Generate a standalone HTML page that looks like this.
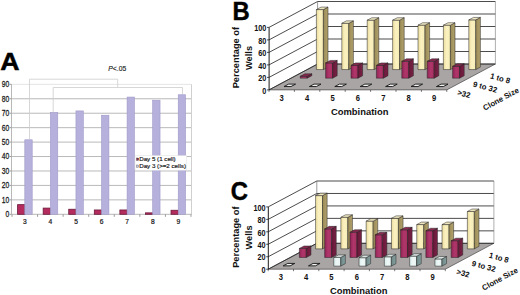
<!DOCTYPE html>
<html><head><meta charset="utf-8"><style>
html,body{margin:0;padding:0;background:#fff;width:520px;height:295px;overflow:hidden}
svg{display:block;font-family:"Liberation Sans", sans-serif}
</style></head><body>
<svg width="520" height="295" viewBox="0 0 520 295">
<defs>
<linearGradient id="yf" x1="0" y1="0" x2="1" y2="0"><stop offset="0" stop-color="#eadc9e"/><stop offset="0.45" stop-color="#fbf1bf"/><stop offset="1" stop-color="#f6ecb6"/></linearGradient>
<linearGradient id="ys" x1="0" y1="0" x2="1" y2="0"><stop offset="0" stop-color="#9a8a56"/><stop offset="1" stop-color="#b2a26c"/></linearGradient>
<linearGradient id="rf" x1="0" y1="0" x2="1" y2="0"><stop offset="0" stop-color="#902456"/><stop offset="0.5" stop-color="#b0366a"/><stop offset="1" stop-color="#a62f60"/></linearGradient>
<linearGradient id="rs" x1="0" y1="0" x2="1" y2="0"><stop offset="0" stop-color="#661838"/><stop offset="1" stop-color="#7a2246"/></linearGradient>
<linearGradient id="wf" x1="0" y1="0" x2="1" y2="0"><stop offset="0" stop-color="#d8ecea"/><stop offset="0.5" stop-color="#eef8f6"/><stop offset="1" stop-color="#e4f2f0"/></linearGradient>
<linearGradient id="ws" x1="0" y1="0" x2="1" y2="0"><stop offset="0" stop-color="#6e8888"/><stop offset="1" stop-color="#86a0a0"/></linearGradient>
</defs>
<rect width="520" height="295" fill="#fff"/>
<line x1="11.5" y1="199.86" x2="191.5" y2="199.86" stroke="#b9b9b9" stroke-width="1"/>
<line x1="11.5" y1="185.42" x2="191.5" y2="185.42" stroke="#b9b9b9" stroke-width="1"/>
<line x1="11.5" y1="170.98" x2="191.5" y2="170.98" stroke="#b9b9b9" stroke-width="1"/>
<line x1="11.5" y1="156.54" x2="191.5" y2="156.54" stroke="#b9b9b9" stroke-width="1"/>
<line x1="11.5" y1="142.1" x2="191.5" y2="142.1" stroke="#b9b9b9" stroke-width="1"/>
<line x1="11.5" y1="127.66" x2="191.5" y2="127.66" stroke="#b9b9b9" stroke-width="1"/>
<line x1="11.5" y1="113.22" x2="191.5" y2="113.22" stroke="#b9b9b9" stroke-width="1"/>
<line x1="11.5" y1="98.78" x2="191.5" y2="98.78" stroke="#b9b9b9" stroke-width="1"/>
<line x1="11.5" y1="84.34" x2="191.5" y2="84.34" stroke="#e4e4e4" stroke-width="1"/>
<line x1="191.5" y1="84.34" x2="191.5" y2="214.3" stroke="#d0d0d0" stroke-width="1"/>
<line x1="11.5" y1="84.34" x2="11.5" y2="214.3" stroke="#b8b8b8" stroke-width="1"/>
<line x1="11.5" y1="214.3" x2="191.5" y2="214.3" stroke="#b8b8b8" stroke-width="1"/>
<line x1="9.5" y1="214.3" x2="11.5" y2="214.3" stroke="#9a9a9a" stroke-width="1"/>
<text transform="translate(9.2,217.2) scale(0.8,1)" text-anchor="end" font-size="8.4" fill="#1a1a1a" stroke="#1a1a1a" stroke-width="0.25">0</text>
<line x1="9.5" y1="199.86" x2="11.5" y2="199.86" stroke="#9a9a9a" stroke-width="1"/>
<text transform="translate(9.2,202.76) scale(0.8,1)" text-anchor="end" font-size="8.4" fill="#1a1a1a" stroke="#1a1a1a" stroke-width="0.25">10</text>
<line x1="9.5" y1="185.42" x2="11.5" y2="185.42" stroke="#9a9a9a" stroke-width="1"/>
<text transform="translate(9.2,188.32) scale(0.8,1)" text-anchor="end" font-size="8.4" fill="#1a1a1a" stroke="#1a1a1a" stroke-width="0.25">20</text>
<line x1="9.5" y1="170.98" x2="11.5" y2="170.98" stroke="#9a9a9a" stroke-width="1"/>
<text transform="translate(9.2,173.88) scale(0.8,1)" text-anchor="end" font-size="8.4" fill="#1a1a1a" stroke="#1a1a1a" stroke-width="0.25">30</text>
<line x1="9.5" y1="156.54" x2="11.5" y2="156.54" stroke="#9a9a9a" stroke-width="1"/>
<text transform="translate(9.2,159.44) scale(0.8,1)" text-anchor="end" font-size="8.4" fill="#1a1a1a" stroke="#1a1a1a" stroke-width="0.25">40</text>
<line x1="9.5" y1="142.1" x2="11.5" y2="142.1" stroke="#9a9a9a" stroke-width="1"/>
<text transform="translate(9.2,145) scale(0.8,1)" text-anchor="end" font-size="8.4" fill="#1a1a1a" stroke="#1a1a1a" stroke-width="0.25">50</text>
<line x1="9.5" y1="127.66" x2="11.5" y2="127.66" stroke="#9a9a9a" stroke-width="1"/>
<text transform="translate(9.2,130.56) scale(0.8,1)" text-anchor="end" font-size="8.4" fill="#1a1a1a" stroke="#1a1a1a" stroke-width="0.25">60</text>
<line x1="9.5" y1="113.22" x2="11.5" y2="113.22" stroke="#9a9a9a" stroke-width="1"/>
<text transform="translate(9.2,116.12) scale(0.8,1)" text-anchor="end" font-size="8.4" fill="#1a1a1a" stroke="#1a1a1a" stroke-width="0.25">70</text>
<line x1="9.5" y1="98.78" x2="11.5" y2="98.78" stroke="#9a9a9a" stroke-width="1"/>
<text transform="translate(9.2,101.68) scale(0.8,1)" text-anchor="end" font-size="8.4" fill="#1a1a1a" stroke="#1a1a1a" stroke-width="0.25">80</text>
<line x1="9.5" y1="84.34" x2="11.5" y2="84.34" stroke="#9a9a9a" stroke-width="1"/>
<text transform="translate(9.2,87.24) scale(0.8,1)" text-anchor="end" font-size="8.4" fill="#1a1a1a" stroke="#1a1a1a" stroke-width="0.25">90</text>
<line x1="12" y1="214.3" x2="12" y2="216.8" stroke="#9a9a9a" stroke-width="1"/>
<line x1="37.57" y1="214.3" x2="37.57" y2="216.8" stroke="#9a9a9a" stroke-width="1"/>
<line x1="63.14" y1="214.3" x2="63.14" y2="216.8" stroke="#9a9a9a" stroke-width="1"/>
<line x1="88.71" y1="214.3" x2="88.71" y2="216.8" stroke="#9a9a9a" stroke-width="1"/>
<line x1="114.28" y1="214.3" x2="114.28" y2="216.8" stroke="#9a9a9a" stroke-width="1"/>
<line x1="139.85" y1="214.3" x2="139.85" y2="216.8" stroke="#9a9a9a" stroke-width="1"/>
<line x1="165.42" y1="214.3" x2="165.42" y2="216.8" stroke="#9a9a9a" stroke-width="1"/>
<line x1="190.99" y1="214.3" x2="190.99" y2="216.8" stroke="#9a9a9a" stroke-width="1"/>
<rect x="17.6" y="204.63" width="7.2" height="9.67" fill="#b42c5e" stroke="#6a1838" stroke-width="0.8"/>
<rect x="24.8" y="139.79" width="7.4" height="74.51" fill="#b5b0dc" stroke="#a09ac8" stroke-width="0.6"/>
<text transform="translate(24.9,224.1) scale(0.88,1)" text-anchor="middle" font-size="7.6" fill="#1a1a1a" stroke="#1a1a1a" stroke-width="0.25">3</text>
<rect x="43.17" y="208.09" width="7.2" height="6.21" fill="#b42c5e" stroke="#6a1838" stroke-width="0.8"/>
<rect x="50.37" y="112.5" width="7.4" height="101.8" fill="#b5b0dc" stroke="#a09ac8" stroke-width="0.6"/>
<text transform="translate(50.47,224.1) scale(0.88,1)" text-anchor="middle" font-size="7.6" fill="#1a1a1a" stroke="#1a1a1a" stroke-width="0.25">4</text>
<rect x="68.74" y="209.25" width="7.2" height="5.05" fill="#b42c5e" stroke="#6a1838" stroke-width="0.8"/>
<rect x="75.94" y="110.91" width="7.4" height="103.39" fill="#b5b0dc" stroke="#a09ac8" stroke-width="0.6"/>
<text transform="translate(76.04,224.1) scale(0.88,1)" text-anchor="middle" font-size="7.6" fill="#1a1a1a" stroke="#1a1a1a" stroke-width="0.25">5</text>
<rect x="94.31" y="209.97" width="7.2" height="4.33" fill="#b42c5e" stroke="#6a1838" stroke-width="0.8"/>
<rect x="101.51" y="115.24" width="7.4" height="99.06" fill="#b5b0dc" stroke="#a09ac8" stroke-width="0.6"/>
<text transform="translate(101.61,224.1) scale(0.88,1)" text-anchor="middle" font-size="7.6" fill="#1a1a1a" stroke="#1a1a1a" stroke-width="0.25">6</text>
<rect x="119.88" y="209.97" width="7.2" height="4.33" fill="#b42c5e" stroke="#6a1838" stroke-width="0.8"/>
<rect x="127.08" y="97.05" width="7.4" height="117.25" fill="#b5b0dc" stroke="#a09ac8" stroke-width="0.6"/>
<text transform="translate(127.18,224.1) scale(0.88,1)" text-anchor="middle" font-size="7.6" fill="#1a1a1a" stroke="#1a1a1a" stroke-width="0.25">7</text>
<rect x="145.45" y="212.86" width="7.2" height="1.44" fill="#b42c5e" stroke="#6a1838" stroke-width="0.8"/>
<rect x="152.65" y="100.22" width="7.4" height="114.08" fill="#b5b0dc" stroke="#a09ac8" stroke-width="0.6"/>
<text transform="translate(152.75,224.1) scale(0.88,1)" text-anchor="middle" font-size="7.6" fill="#1a1a1a" stroke="#1a1a1a" stroke-width="0.25">8</text>
<rect x="171.02" y="210.26" width="7.2" height="4.04" fill="#b42c5e" stroke="#6a1838" stroke-width="0.8"/>
<rect x="178.22" y="94.74" width="7.4" height="119.56" fill="#b5b0dc" stroke="#a09ac8" stroke-width="0.6"/>
<text transform="translate(178.32,224.1) scale(0.88,1)" text-anchor="middle" font-size="7.6" fill="#1a1a1a" stroke="#1a1a1a" stroke-width="0.25">9</text>
<polyline points="29.5,139 29.5,79.2 117.7,79.2 117.7,87.5" fill="none" stroke="#cdcdcd" stroke-width="0.8"/>
<polyline points="53.2,112 53.2,87.5 182.5,87.5 182.5,94" fill="none" stroke="#cdcdcd" stroke-width="0.8"/>
<text transform="translate(108.3,71.1) scale(0.87,1)" font-size="7.8" fill="#1a1a1a" stroke="#1a1a1a" stroke-width="0.15"><tspan font-style="italic">P</tspan>&lt;.05</text>
<rect x="135" y="155.6" width="51.6" height="14.6" fill="#fff" stroke="#e0e0e0" stroke-width="0.5"/>
<rect x="136.5" y="158" width="2.2" height="2.4" fill="#8a2a4a" stroke="#444" stroke-width="0.4"/>
<rect x="136.5" y="165" width="2.2" height="2.4" fill="#c8c4e0" stroke="#666" stroke-width="0.4"/>
<text x="139.2" y="161" font-size="6.2" fill="#1a1a1a" stroke="#1a1a1a" stroke-width="0.18">Day 5 (1 cell)</text>
<text x="139.2" y="168" font-size="6.2" fill="#1a1a1a" stroke="#1a1a1a" stroke-width="0.18">Day 3 (&gt;=2 cells)</text>
<text transform="translate(0.3,70.3) scale(1.09,1)" font-size="24.5" font-weight="bold" fill="#000" stroke="#000" stroke-width="0.5">A</text>
<polygon points="269,89.9 446.8,89.9 495.4,64.01 317.6,64.01" fill="#aaa5a5" stroke="#333" stroke-width="0.6"/><line x1="317.6" y1="64.01" x2="495.4" y2="64.01" stroke="#2c2c2c" stroke-width="0.85"/><line x1="269" y1="89.9" x2="317.6" y2="64.01" stroke="#2c2c2c" stroke-width="0.85"/><line x1="317.6" y1="51.51" x2="495.4" y2="51.51" stroke="#2c2c2c" stroke-width="0.85"/><line x1="269" y1="77.4" x2="317.6" y2="51.51" stroke="#2c2c2c" stroke-width="0.85"/><line x1="317.6" y1="39.01" x2="495.4" y2="39.01" stroke="#2c2c2c" stroke-width="0.85"/><line x1="269" y1="64.9" x2="317.6" y2="39.01" stroke="#2c2c2c" stroke-width="0.85"/><line x1="317.6" y1="26.51" x2="495.4" y2="26.51" stroke="#2c2c2c" stroke-width="0.85"/><line x1="269" y1="52.4" x2="317.6" y2="26.51" stroke="#2c2c2c" stroke-width="0.85"/><line x1="317.6" y1="14.01" x2="495.4" y2="14.01" stroke="#2c2c2c" stroke-width="0.85"/><line x1="269" y1="39.9" x2="317.6" y2="14.01" stroke="#2c2c2c" stroke-width="0.85"/><line x1="317.6" y1="1.51" x2="495.4" y2="1.51" stroke="#2c2c2c" stroke-width="0.85"/><line x1="269" y1="27.4" x2="317.6" y2="1.51" stroke="#2c2c2c" stroke-width="0.85"/><line x1="317.6" y1="64.01" x2="317.6" y2="1.51" stroke="#555" stroke-width="0.6"/><line x1="495.4" y1="64.01" x2="495.4" y2="1.51" stroke="#777" stroke-width="0.6"/><line x1="269.1" y1="89.9" x2="269.1" y2="27.4" stroke="#1a1a1a" stroke-width="1"/><line x1="267" y1="89.9" x2="269" y2="89.9" stroke="#222" stroke-width="0.8"/><text transform="translate(266.4,93.6) scale(0.88,1)" text-anchor="end" font-size="8.3" font-weight="bold" fill="#111">0</text><line x1="267" y1="77.4" x2="269" y2="77.4" stroke="#222" stroke-width="0.8"/><text transform="translate(266.4,81.1) scale(0.88,1)" text-anchor="end" font-size="8.3" font-weight="bold" fill="#111">20</text><line x1="267" y1="64.9" x2="269" y2="64.9" stroke="#222" stroke-width="0.8"/><text transform="translate(266.4,68.6) scale(0.88,1)" text-anchor="end" font-size="8.3" font-weight="bold" fill="#111">40</text><line x1="267" y1="52.4" x2="269" y2="52.4" stroke="#222" stroke-width="0.8"/><text transform="translate(266.4,56.1) scale(0.88,1)" text-anchor="end" font-size="8.3" font-weight="bold" fill="#111">60</text><line x1="267" y1="39.9" x2="269" y2="39.9" stroke="#222" stroke-width="0.8"/><text transform="translate(266.4,43.6) scale(0.88,1)" text-anchor="end" font-size="8.3" font-weight="bold" fill="#111">80</text><line x1="267" y1="27.4" x2="269" y2="27.4" stroke="#222" stroke-width="0.8"/><text transform="translate(266.4,31.1) scale(0.88,1)" text-anchor="end" font-size="8.3" font-weight="bold" fill="#111">100</text><line x1="269" y1="89.9" x2="269" y2="91.9" stroke="#222" stroke-width="0.6"/><line x1="294.4" y1="89.9" x2="294.4" y2="91.9" stroke="#222" stroke-width="0.6"/><line x1="319.8" y1="89.9" x2="319.8" y2="91.9" stroke="#222" stroke-width="0.6"/><line x1="345.2" y1="89.9" x2="345.2" y2="91.9" stroke="#222" stroke-width="0.6"/><line x1="370.6" y1="89.9" x2="370.6" y2="91.9" stroke="#222" stroke-width="0.6"/><line x1="396" y1="89.9" x2="396" y2="91.9" stroke="#222" stroke-width="0.6"/><line x1="421.4" y1="89.9" x2="421.4" y2="91.9" stroke="#222" stroke-width="0.6"/><line x1="446.8" y1="89.9" x2="446.8" y2="91.9" stroke="#222" stroke-width="0.6"/><text transform="translate(281.7,100.8) scale(0.92,1)" text-anchor="middle" font-size="8.3" font-weight="bold" fill="#111">3</text><text transform="translate(307.1,100.8) scale(0.92,1)" text-anchor="middle" font-size="8.3" font-weight="bold" fill="#111">4</text><text transform="translate(332.5,100.8) scale(0.92,1)" text-anchor="middle" font-size="8.3" font-weight="bold" fill="#111">5</text><text transform="translate(357.9,100.8) scale(0.92,1)" text-anchor="middle" font-size="8.3" font-weight="bold" fill="#111">6</text><text transform="translate(383.3,100.8) scale(0.92,1)" text-anchor="middle" font-size="8.3" font-weight="bold" fill="#111">7</text><text transform="translate(408.7,100.8) scale(0.92,1)" text-anchor="middle" font-size="8.3" font-weight="bold" fill="#111">8</text><text transform="translate(434.1,100.8) scale(0.92,1)" text-anchor="middle" font-size="8.3" font-weight="bold" fill="#111">9</text><polygon points="316.4,69.55 323.38,69.55 323.38,9.55 316.4,9.55" fill="url(#yf)" stroke="#222" stroke-width="0.5"/><polygon points="323.38,69.55 328,67.1 328,7.1 323.38,9.55" fill="url(#ys)" stroke="#222" stroke-width="0.5"/><polygon points="316.4,9.55 323.38,9.55 328,7.1 321.02,7.1" fill="#efe6c0" stroke="#222" stroke-width="0.5"/><polygon points="341.8,69.55 348.78,69.55 348.78,23.3 341.8,23.3" fill="url(#yf)" stroke="#222" stroke-width="0.5"/><polygon points="348.78,69.55 353.4,67.1 353.4,20.85 348.78,23.3" fill="url(#ys)" stroke="#222" stroke-width="0.5"/><polygon points="341.8,23.3 348.78,23.3 353.4,20.85 346.42,20.85" fill="#efe6c0" stroke="#222" stroke-width="0.5"/><polygon points="367.2,69.55 374.18,69.55 374.18,20.18 367.2,20.18" fill="url(#yf)" stroke="#222" stroke-width="0.5"/><polygon points="374.18,69.55 378.8,67.1 378.8,17.72 374.18,20.18" fill="url(#ys)" stroke="#222" stroke-width="0.5"/><polygon points="367.2,20.18 374.18,20.18 378.8,17.72 371.82,17.72" fill="#efe6c0" stroke="#222" stroke-width="0.5"/><polygon points="392.6,69.55 399.58,69.55 399.58,20.18 392.6,20.18" fill="url(#yf)" stroke="#222" stroke-width="0.5"/><polygon points="399.58,69.55 404.2,67.1 404.2,17.72 399.58,20.18" fill="url(#ys)" stroke="#222" stroke-width="0.5"/><polygon points="392.6,20.18 399.58,20.18 404.2,17.72 397.22,17.72" fill="#efe6c0" stroke="#222" stroke-width="0.5"/><polygon points="418,69.55 424.98,69.55 424.98,25.18 418,25.18" fill="url(#yf)" stroke="#222" stroke-width="0.5"/><polygon points="424.98,69.55 429.6,67.1 429.6,22.72 424.98,25.18" fill="url(#ys)" stroke="#222" stroke-width="0.5"/><polygon points="418,25.18 424.98,25.18 429.6,22.72 422.62,22.72" fill="#efe6c0" stroke="#222" stroke-width="0.5"/><polygon points="443.4,69.55 450.38,69.55 450.38,25.18 443.4,25.18" fill="url(#yf)" stroke="#222" stroke-width="0.5"/><polygon points="450.38,69.55 455,67.1 455,22.72 450.38,25.18" fill="url(#ys)" stroke="#222" stroke-width="0.5"/><polygon points="443.4,25.18 450.38,25.18 455,22.72 448.02,22.72" fill="#efe6c0" stroke="#222" stroke-width="0.5"/><polygon points="468.8,69.55 475.78,69.55 475.78,19.87 468.8,19.87" fill="url(#yf)" stroke="#222" stroke-width="0.5"/><polygon points="475.78,69.55 480.4,67.1 480.4,17.41 475.78,19.87" fill="url(#ys)" stroke="#222" stroke-width="0.5"/><polygon points="468.8,19.87 475.78,19.87 480.4,17.41 473.42,17.41" fill="#efe6c0" stroke="#222" stroke-width="0.5"/><polygon points="300.2,78.18 307.18,78.18 307.18,76.31 300.2,76.31" fill="url(#rf)" stroke="#222" stroke-width="0.5"/><polygon points="307.18,78.18 311.8,75.73 311.8,73.85 307.18,76.31" fill="url(#rs)" stroke="#222" stroke-width="0.5"/><polygon points="300.2,76.31 307.18,76.31 311.8,73.85 304.82,73.85" fill="#8a2a50" stroke="#222" stroke-width="0.5"/><polygon points="325.6,78.18 332.58,78.18 332.58,62.87 325.6,62.87" fill="url(#rf)" stroke="#222" stroke-width="0.5"/><polygon points="332.58,78.18 337.2,75.73 337.2,60.41 332.58,62.87" fill="url(#rs)" stroke="#222" stroke-width="0.5"/><polygon points="325.6,62.87 332.58,62.87 337.2,60.41 330.22,60.41" fill="#8a2a50" stroke="#222" stroke-width="0.5"/><polygon points="351,78.18 357.98,78.18 357.98,65.37 351,65.37" fill="url(#rf)" stroke="#222" stroke-width="0.5"/><polygon points="357.98,78.18 362.6,75.73 362.6,62.91 357.98,65.37" fill="url(#rs)" stroke="#222" stroke-width="0.5"/><polygon points="351,65.37 357.98,65.37 362.6,62.91 355.62,62.91" fill="#8a2a50" stroke="#222" stroke-width="0.5"/><polygon points="376.4,78.18 383.38,78.18 383.38,65.37 376.4,65.37" fill="url(#rf)" stroke="#222" stroke-width="0.5"/><polygon points="383.38,78.18 388,75.73 388,62.91 383.38,65.37" fill="url(#rs)" stroke="#222" stroke-width="0.5"/><polygon points="376.4,65.37 383.38,65.37 388,62.91 381.02,62.91" fill="#8a2a50" stroke="#222" stroke-width="0.5"/><polygon points="401.8,78.18 408.78,78.18 408.78,61.31 401.8,61.31" fill="url(#rf)" stroke="#222" stroke-width="0.5"/><polygon points="408.78,78.18 413.4,75.73 413.4,58.85 408.78,61.31" fill="url(#rs)" stroke="#222" stroke-width="0.5"/><polygon points="401.8,61.31 408.78,61.31 413.4,58.85 406.42,58.85" fill="#8a2a50" stroke="#222" stroke-width="0.5"/><polygon points="427.2,78.18 434.18,78.18 434.18,61.31 427.2,61.31" fill="url(#rf)" stroke="#222" stroke-width="0.5"/><polygon points="434.18,78.18 438.8,75.73 438.8,58.85 434.18,61.31" fill="url(#rs)" stroke="#222" stroke-width="0.5"/><polygon points="427.2,61.31 434.18,61.31 438.8,58.85 431.82,58.85" fill="#8a2a50" stroke="#222" stroke-width="0.5"/><polygon points="452.6,78.18 459.58,78.18 459.58,66.31 452.6,66.31" fill="url(#rf)" stroke="#222" stroke-width="0.5"/><polygon points="459.58,78.18 464.2,75.73 464.2,63.85 459.58,66.31" fill="url(#rs)" stroke="#222" stroke-width="0.5"/><polygon points="452.6,66.31 459.58,66.31 464.2,63.85 457.22,63.85" fill="#8a2a50" stroke="#222" stroke-width="0.5"/><polygon points="284,86.56 290.98,86.56 295.6,84.11 288.62,84.11" fill="#f2f2f2" stroke="#1a1a1a" stroke-width="0.95"/><polygon points="309.4,86.56 316.38,86.56 321,84.11 314.02,84.11" fill="#f2f2f2" stroke="#1a1a1a" stroke-width="0.95"/><polygon points="334.8,86.56 341.78,86.56 346.4,84.11 339.42,84.11" fill="#f2f2f2" stroke="#1a1a1a" stroke-width="0.95"/><polygon points="360.2,86.56 367.18,86.56 371.8,84.11 364.82,84.11" fill="#f2f2f2" stroke="#1a1a1a" stroke-width="0.95"/><polygon points="385.6,86.56 392.58,86.56 397.2,84.11 390.22,84.11" fill="#f2f2f2" stroke="#1a1a1a" stroke-width="0.95"/><polygon points="411,86.56 417.98,86.56 422.6,84.11 415.62,84.11" fill="#f2f2f2" stroke="#1a1a1a" stroke-width="0.95"/><polygon points="436.4,86.56 443.38,86.56 448,84.11 441.02,84.11" fill="#f2f2f2" stroke="#1a1a1a" stroke-width="0.95"/><text transform="translate(232.4,19.9) scale(0.93,1)" font-size="25.6" font-weight="bold" fill="#000" stroke="#000" stroke-width="0.45">B</text>
<polygon points="268.2,269.2 445.3,269.2 493.9,243.31 316.8,243.31" fill="#aaa5a5" stroke="#333" stroke-width="0.6"/><line x1="316.8" y1="243.31" x2="493.9" y2="243.31" stroke="#2c2c2c" stroke-width="0.85"/><line x1="268.2" y1="269.2" x2="316.8" y2="243.31" stroke="#2c2c2c" stroke-width="0.85"/><line x1="316.8" y1="230.85" x2="493.9" y2="230.85" stroke="#2c2c2c" stroke-width="0.85"/><line x1="268.2" y1="256.74" x2="316.8" y2="230.85" stroke="#2c2c2c" stroke-width="0.85"/><line x1="316.8" y1="218.39" x2="493.9" y2="218.39" stroke="#2c2c2c" stroke-width="0.85"/><line x1="268.2" y1="244.28" x2="316.8" y2="218.39" stroke="#2c2c2c" stroke-width="0.85"/><line x1="316.8" y1="205.93" x2="493.9" y2="205.93" stroke="#2c2c2c" stroke-width="0.85"/><line x1="268.2" y1="231.82" x2="316.8" y2="205.93" stroke="#2c2c2c" stroke-width="0.85"/><line x1="316.8" y1="193.47" x2="493.9" y2="193.47" stroke="#2c2c2c" stroke-width="0.85"/><line x1="268.2" y1="219.36" x2="316.8" y2="193.47" stroke="#2c2c2c" stroke-width="0.85"/><line x1="316.8" y1="181.01" x2="493.9" y2="181.01" stroke="#2c2c2c" stroke-width="0.85"/><line x1="268.2" y1="206.9" x2="316.8" y2="181.01" stroke="#2c2c2c" stroke-width="0.85"/><line x1="316.8" y1="243.31" x2="316.8" y2="181.01" stroke="#555" stroke-width="0.6"/><line x1="493.9" y1="243.31" x2="493.9" y2="181.01" stroke="#777" stroke-width="0.6"/><line x1="268.3" y1="269.2" x2="268.3" y2="206.9" stroke="#1a1a1a" stroke-width="1"/><line x1="266.2" y1="269.2" x2="268.2" y2="269.2" stroke="#222" stroke-width="0.8"/><text transform="translate(265.6,272.9) scale(0.88,1)" text-anchor="end" font-size="8.3" font-weight="bold" fill="#111">0</text><line x1="266.2" y1="256.74" x2="268.2" y2="256.74" stroke="#222" stroke-width="0.8"/><text transform="translate(265.6,260.44) scale(0.88,1)" text-anchor="end" font-size="8.3" font-weight="bold" fill="#111">20</text><line x1="266.2" y1="244.28" x2="268.2" y2="244.28" stroke="#222" stroke-width="0.8"/><text transform="translate(265.6,247.98) scale(0.88,1)" text-anchor="end" font-size="8.3" font-weight="bold" fill="#111">40</text><line x1="266.2" y1="231.82" x2="268.2" y2="231.82" stroke="#222" stroke-width="0.8"/><text transform="translate(265.6,235.52) scale(0.88,1)" text-anchor="end" font-size="8.3" font-weight="bold" fill="#111">60</text><line x1="266.2" y1="219.36" x2="268.2" y2="219.36" stroke="#222" stroke-width="0.8"/><text transform="translate(265.6,223.06) scale(0.88,1)" text-anchor="end" font-size="8.3" font-weight="bold" fill="#111">80</text><line x1="266.2" y1="206.9" x2="268.2" y2="206.9" stroke="#222" stroke-width="0.8"/><text transform="translate(265.6,210.6) scale(0.88,1)" text-anchor="end" font-size="8.3" font-weight="bold" fill="#111">100</text><line x1="268.2" y1="269.2" x2="268.2" y2="271.2" stroke="#222" stroke-width="0.6"/><line x1="293.5" y1="269.2" x2="293.5" y2="271.2" stroke="#222" stroke-width="0.6"/><line x1="318.8" y1="269.2" x2="318.8" y2="271.2" stroke="#222" stroke-width="0.6"/><line x1="344.1" y1="269.2" x2="344.1" y2="271.2" stroke="#222" stroke-width="0.6"/><line x1="369.4" y1="269.2" x2="369.4" y2="271.2" stroke="#222" stroke-width="0.6"/><line x1="394.7" y1="269.2" x2="394.7" y2="271.2" stroke="#222" stroke-width="0.6"/><line x1="420" y1="269.2" x2="420" y2="271.2" stroke="#222" stroke-width="0.6"/><line x1="445.3" y1="269.2" x2="445.3" y2="271.2" stroke="#222" stroke-width="0.6"/><text transform="translate(280.85,280.1) scale(0.92,1)" text-anchor="middle" font-size="8.3" font-weight="bold" fill="#111">3</text><text transform="translate(306.15,280.1) scale(0.92,1)" text-anchor="middle" font-size="8.3" font-weight="bold" fill="#111">4</text><text transform="translate(331.45,280.1) scale(0.92,1)" text-anchor="middle" font-size="8.3" font-weight="bold" fill="#111">5</text><text transform="translate(356.75,280.1) scale(0.92,1)" text-anchor="middle" font-size="8.3" font-weight="bold" fill="#111">6</text><text transform="translate(382.05,280.1) scale(0.92,1)" text-anchor="middle" font-size="8.3" font-weight="bold" fill="#111">7</text><text transform="translate(407.35,280.1) scale(0.92,1)" text-anchor="middle" font-size="8.3" font-weight="bold" fill="#111">8</text><text transform="translate(432.65,280.1) scale(0.92,1)" text-anchor="middle" font-size="8.3" font-weight="bold" fill="#111">9</text><polygon points="315.56,248.85 322.52,248.85 322.52,195.59 315.56,195.59" fill="url(#yf)" stroke="#222" stroke-width="0.5"/><polygon points="322.52,248.85 327.14,246.4 327.14,193.13 322.52,195.59" fill="url(#ys)" stroke="#222" stroke-width="0.5"/><polygon points="315.56,195.59 322.52,195.59 327.14,193.13 320.18,193.13" fill="#efe6c0" stroke="#222" stroke-width="0.5"/><polygon points="340.86,248.85 347.82,248.85 347.82,217.27 340.86,217.27" fill="url(#yf)" stroke="#222" stroke-width="0.5"/><polygon points="347.82,248.85 352.44,246.4 352.44,214.81 347.82,217.27" fill="url(#ys)" stroke="#222" stroke-width="0.5"/><polygon points="340.86,217.27 347.82,217.27 352.44,214.81 345.48,214.81" fill="#efe6c0" stroke="#222" stroke-width="0.5"/><polygon points="366.16,248.85 373.12,248.85 373.12,221.13 366.16,221.13" fill="url(#yf)" stroke="#222" stroke-width="0.5"/><polygon points="373.12,248.85 377.74,246.4 377.74,218.67 373.12,221.13" fill="url(#ys)" stroke="#222" stroke-width="0.5"/><polygon points="366.16,221.13 373.12,221.13 377.74,218.67 370.78,218.67" fill="#efe6c0" stroke="#222" stroke-width="0.5"/><polygon points="391.46,248.85 398.42,248.85 398.42,218.33 391.46,218.33" fill="url(#yf)" stroke="#222" stroke-width="0.5"/><polygon points="398.42,248.85 403.04,246.4 403.04,215.87 398.42,218.33" fill="url(#ys)" stroke="#222" stroke-width="0.5"/><polygon points="391.46,218.33 398.42,218.33 403.04,215.87 396.08,215.87" fill="#efe6c0" stroke="#222" stroke-width="0.5"/><polygon points="416.76,248.85 423.72,248.85 423.72,224.56 416.76,224.56" fill="url(#yf)" stroke="#222" stroke-width="0.5"/><polygon points="423.72,248.85 428.34,246.4 428.34,222.1 423.72,224.56" fill="url(#ys)" stroke="#222" stroke-width="0.5"/><polygon points="416.76,224.56 423.72,224.56 428.34,222.1 421.38,222.1" fill="#efe6c0" stroke="#222" stroke-width="0.5"/><polygon points="442.06,248.85 449.02,248.85 449.02,224.56 442.06,224.56" fill="url(#yf)" stroke="#222" stroke-width="0.5"/><polygon points="449.02,248.85 453.64,246.4 453.64,222.1 449.02,224.56" fill="url(#ys)" stroke="#222" stroke-width="0.5"/><polygon points="442.06,224.56 449.02,224.56 453.64,222.1 446.68,222.1" fill="#efe6c0" stroke="#222" stroke-width="0.5"/><polygon points="467.36,248.85 474.32,248.85 474.32,211.47 467.36,211.47" fill="url(#yf)" stroke="#222" stroke-width="0.5"/><polygon points="474.32,248.85 478.94,246.4 478.94,209.02 474.32,211.47" fill="url(#ys)" stroke="#222" stroke-width="0.5"/><polygon points="467.36,211.47 474.32,211.47 478.94,209.02 471.98,209.02" fill="#efe6c0" stroke="#222" stroke-width="0.5"/><polygon points="299.36,257.48 306.32,257.48 306.32,248.45 299.36,248.45" fill="url(#rf)" stroke="#222" stroke-width="0.5"/><polygon points="306.32,257.48 310.94,255.03 310.94,245.99 306.32,248.45" fill="url(#rs)" stroke="#222" stroke-width="0.5"/><polygon points="299.36,248.45 306.32,248.45 310.94,245.99 303.98,245.99" fill="#8a2a50" stroke="#222" stroke-width="0.5"/><polygon points="324.66,257.48 331.62,257.48 331.62,228.83 324.66,228.83" fill="url(#rf)" stroke="#222" stroke-width="0.5"/><polygon points="331.62,257.48 336.24,255.03 336.24,226.37 331.62,228.83" fill="url(#rs)" stroke="#222" stroke-width="0.5"/><polygon points="324.66,228.83 331.62,228.83 336.24,226.37 329.28,226.37" fill="#8a2a50" stroke="#222" stroke-width="0.5"/><polygon points="349.96,257.48 356.92,257.48 356.92,232.25 349.96,232.25" fill="url(#rf)" stroke="#222" stroke-width="0.5"/><polygon points="356.92,257.48 361.54,255.03 361.54,229.79 356.92,232.25" fill="url(#rs)" stroke="#222" stroke-width="0.5"/><polygon points="349.96,232.25 356.92,232.25 361.54,229.79 354.58,229.79" fill="#8a2a50" stroke="#222" stroke-width="0.5"/><polygon points="375.26,257.48 382.22,257.48 382.22,234.75 375.26,234.75" fill="url(#rf)" stroke="#222" stroke-width="0.5"/><polygon points="382.22,257.48 386.84,255.03 386.84,232.29 382.22,234.75" fill="url(#rs)" stroke="#222" stroke-width="0.5"/><polygon points="375.26,234.75 382.22,234.75 386.84,232.29 379.88,232.29" fill="#8a2a50" stroke="#222" stroke-width="0.5"/><polygon points="400.56,257.48 407.52,257.48 407.52,229.76 400.56,229.76" fill="url(#rf)" stroke="#222" stroke-width="0.5"/><polygon points="407.52,257.48 412.14,255.03 412.14,227.3 407.52,229.76" fill="url(#rs)" stroke="#222" stroke-width="0.5"/><polygon points="400.56,229.76 407.52,229.76 412.14,227.3 405.18,227.3" fill="#8a2a50" stroke="#222" stroke-width="0.5"/><polygon points="425.86,257.48 432.82,257.48 432.82,230.7 425.86,230.7" fill="url(#rf)" stroke="#222" stroke-width="0.5"/><polygon points="432.82,257.48 437.44,255.03 437.44,228.24 432.82,230.7" fill="url(#rs)" stroke="#222" stroke-width="0.5"/><polygon points="425.86,230.7 432.82,230.7 437.44,228.24 430.48,228.24" fill="#8a2a50" stroke="#222" stroke-width="0.5"/><polygon points="451.16,257.48 458.12,257.48 458.12,240.66 451.16,240.66" fill="url(#rf)" stroke="#222" stroke-width="0.5"/><polygon points="458.12,257.48 462.74,255.03 462.74,238.2 458.12,240.66" fill="url(#rs)" stroke="#222" stroke-width="0.5"/><polygon points="451.16,240.66 458.12,240.66 462.74,238.2 455.78,238.2" fill="#8a2a50" stroke="#222" stroke-width="0.5"/><polygon points="283.16,265.87 290.12,265.87 294.74,263.41 287.78,263.41" fill="#f2f2f2" stroke="#1a1a1a" stroke-width="0.95"/><polygon points="308.46,265.87 315.42,265.87 320.04,263.41 313.08,263.41" fill="#f2f2f2" stroke="#1a1a1a" stroke-width="0.95"/><polygon points="333.76,266.11 340.72,266.11 340.72,257.39 333.76,257.39" fill="url(#wf)" stroke="#222" stroke-width="0.5"/><polygon points="340.72,266.11 345.34,263.66 345.34,254.93 340.72,257.39" fill="url(#ws)" stroke="#222" stroke-width="0.5"/><polygon points="333.76,257.39 340.72,257.39 345.34,254.93 338.38,254.93" fill="#d8e4e2" stroke="#222" stroke-width="0.5"/><polygon points="359.06,266.11 366.02,266.11 366.02,257.7 359.06,257.7" fill="url(#wf)" stroke="#222" stroke-width="0.5"/><polygon points="366.02,266.11 370.64,263.66 370.64,255.24 366.02,257.7" fill="url(#ws)" stroke="#222" stroke-width="0.5"/><polygon points="359.06,257.7 366.02,257.7 370.64,255.24 363.68,255.24" fill="#d8e4e2" stroke="#222" stroke-width="0.5"/><polygon points="384.36,266.11 391.32,266.11 391.32,256.77 384.36,256.77" fill="url(#wf)" stroke="#222" stroke-width="0.5"/><polygon points="391.32,266.11 395.94,263.66 395.94,254.31 391.32,256.77" fill="url(#ws)" stroke="#222" stroke-width="0.5"/><polygon points="384.36,256.77 391.32,256.77 395.94,254.31 388.98,254.31" fill="#d8e4e2" stroke="#222" stroke-width="0.5"/><polygon points="409.66,266.11 416.62,266.11 416.62,256.15 409.66,256.15" fill="url(#wf)" stroke="#222" stroke-width="0.5"/><polygon points="416.62,266.11 421.24,263.66 421.24,253.69 416.62,256.15" fill="url(#ws)" stroke="#222" stroke-width="0.5"/><polygon points="409.66,256.15 416.62,256.15 421.24,253.69 414.28,253.69" fill="#d8e4e2" stroke="#222" stroke-width="0.5"/><polygon points="434.96,266.11 441.92,266.11 441.92,258.95 434.96,258.95" fill="url(#wf)" stroke="#222" stroke-width="0.5"/><polygon points="441.92,266.11 446.54,263.66 446.54,256.49 441.92,258.95" fill="url(#ws)" stroke="#222" stroke-width="0.5"/><polygon points="434.96,258.95 441.92,258.95 446.54,256.49 439.58,256.49" fill="#d8e4e2" stroke="#222" stroke-width="0.5"/><text transform="translate(230.8,200.3) scale(0.93,1)" font-size="25.6" font-weight="bold" fill="#000" stroke="#000" stroke-width="0.45">C</text>
<text transform="translate(239.2,57.6) rotate(-90)" text-anchor="middle" font-size="9.3" font-weight="bold" fill="#111">Percentage of</text><text transform="translate(252.1,58) rotate(-90)" text-anchor="middle" font-size="9.3" font-weight="bold" fill="#111">Wells</text><text x="359.7" y="115.1" text-anchor="middle" font-size="9.8" font-weight="bold" fill="#111" transform-origin="359.7 0" transform="scale(0.96,1)">Combination</text><text transform="translate(489.8,78.3) rotate(15)" font-size="7.75" font-weight="bold" fill="#111">1 to 8</text><text transform="translate(472.6,86.4) rotate(15)" font-size="7.75" font-weight="bold" fill="#111">9 to 32</text><text transform="translate(457,94.8) rotate(15)" font-size="7.75" font-weight="bold" fill="#111">&gt;32</text><text transform="translate(484.8,110.65) rotate(-28.3)" font-size="7.8" font-weight="bold" fill="#111">Clone Size</text>
<text transform="translate(239.2,237.1) rotate(-90)" text-anchor="middle" font-size="9.3" font-weight="bold" fill="#111">Percentage of</text><text transform="translate(252.1,237.5) rotate(-90)" text-anchor="middle" font-size="9.3" font-weight="bold" fill="#111">Wells</text><text x="358.7" y="293.8" text-anchor="middle" font-size="9.8" font-weight="bold" fill="#111" transform-origin="358.7 0" transform="scale(0.96,1)">Combination</text><text transform="translate(488.4,257.6) rotate(15)" font-size="7.75" font-weight="bold" fill="#111">1 to 8</text><text transform="translate(471.2,265.7) rotate(15)" font-size="7.75" font-weight="bold" fill="#111">9 to 32</text><text transform="translate(456.02,274.1) rotate(15)" font-size="7.75" font-weight="bold" fill="#111">&gt;32</text><text transform="translate(483.79,290.65) rotate(-28.3)" font-size="7.8" font-weight="bold" fill="#111">Clone Size</text>
</svg>
</body></html>
